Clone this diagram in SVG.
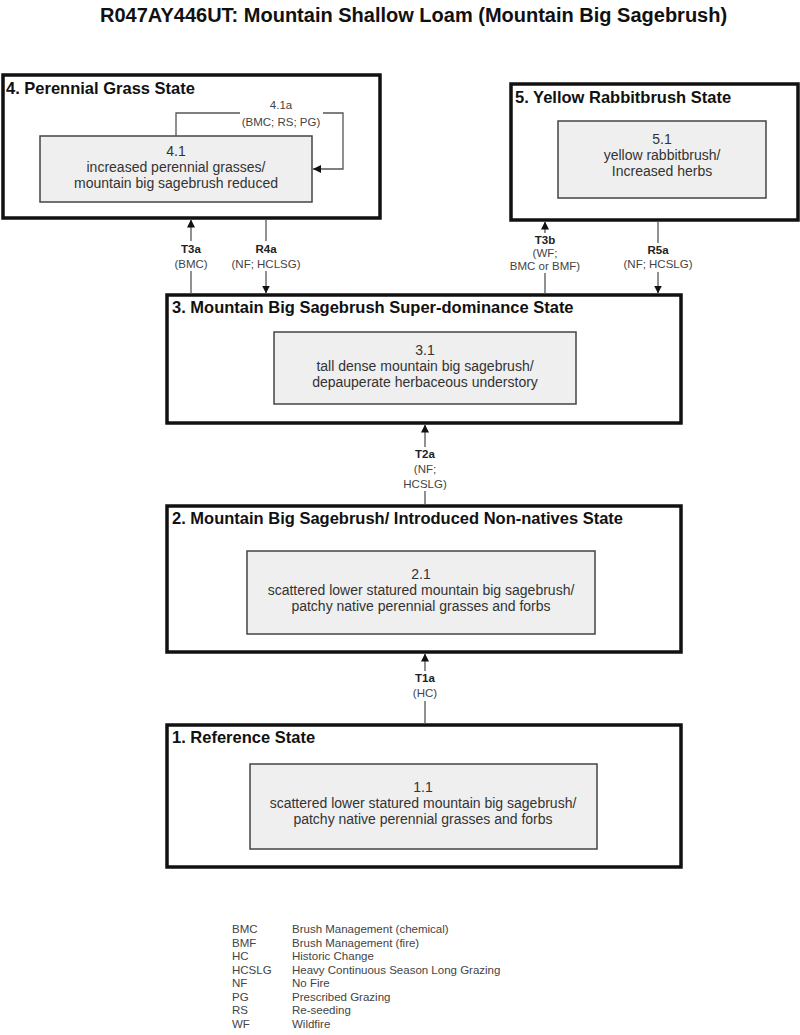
<svg xmlns="http://www.w3.org/2000/svg" width="800" height="1035" viewBox="0 0 800 1035">
<style>
text{font-family:"Liberation Sans",Arial,sans-serif}
.title{font-size:20px;font-weight:bold;fill:#111}
.state{fill:#fff;stroke:#111;stroke-width:3.5}
.stitle{font-size:16.5px;font-weight:bold;fill:#111}
.comm{fill:#efefef;stroke:#444;stroke-width:1.5}
.ctext{font-size:14px;fill:#333;text-anchor:middle}
.conn{fill:none;stroke:#555;stroke-width:1.3}
.lbl{font-size:11.5px;fill:#444;text-anchor:middle}
.lblb{font-size:11.5px;fill:#222;font-weight:bold;text-anchor:middle}
.bg{fill:#fff}
.leg{font-size:11.5px;fill:#444}
</style>
<defs>
<marker id="ah" viewBox="0 0 10 10" refX="10" refY="5" markerWidth="8" markerHeight="8" markerUnits="userSpaceOnUse" orient="auto">
<path d="M0,0 L10,5 L0,10 z" fill="#111"/>
</marker>
</defs>

<text class="title" x="100" y="22">R047AY446UT: Mountain Shallow Loam (Mountain Big Sagebrush)</text>

<g id="state4">
<rect class="state" x="3" y="75" width="377" height="143"/>
<text class="stitle" x="6" y="94">4. Perennial Grass State</text>
<g id="c41">
<rect class="comm" x="40" y="136" width="272" height="66"/>
<text class="ctext" x="176" y="156">4.1</text>
<text class="ctext" x="176" y="172">increased perennial grasses/</text>
<text class="ctext" x="176" y="188">mountain big sagebrush reduced</text>
</g>
</g>

<g id="state5">
<rect class="state" x="511" y="84" width="287" height="136"/>
<text class="stitle" x="515" y="103">5. Yellow Rabbitbrush State</text>
<g id="c51">
<rect class="comm" x="558" y="121" width="208" height="77"/>
<text class="ctext" x="662" y="144">5.1</text>
<text class="ctext" x="662" y="160">yellow rabbitbrush/</text>
<text class="ctext" x="662" y="176">Increased herbs</text>
</g>
</g>

<g id="state3">
<rect class="state" x="167" y="295" width="514" height="128"/>
<text class="stitle" x="172" y="313">3. Mountain Big Sagebrush Super-dominance State</text>
<g id="c31">
<rect class="comm" x="274" y="332" width="302" height="72"/>
<text class="ctext" x="425" y="355">3.1</text>
<text class="ctext" x="425" y="371">tall dense mountain big sagebrush/</text>
<text class="ctext" x="425" y="387">depauperate herbaceous understory</text>
</g>
</g>

<g id="state2">
<rect class="state" x="167" y="506" width="514" height="146"/>
<text class="stitle" x="172" y="524">2. Mountain Big Sagebrush/ Introduced Non-natives State</text>
<g id="c21">
<rect class="comm" x="247" y="551" width="348" height="83"/>
<text class="ctext" x="421" y="579">2.1</text>
<text class="ctext" x="421" y="595">scattered lower statured mountain big sagebrush/</text>
<text class="ctext" x="421" y="611">patchy native perennial grasses and forbs</text>
</g>
</g>

<g id="state1">
<rect class="state" x="167" y="725" width="514" height="142"/>
<text class="stitle" x="172" y="743">1. Reference State</text>
<g id="c11">
<rect class="comm" x="250" y="764" width="347" height="85"/>
<text class="ctext" x="423" y="792">1.1</text>
<text class="ctext" x="423" y="808">scattered lower statured mountain big sagebrush/</text>
<text class="ctext" x="423" y="824">patchy native perennial grasses and forbs</text>
</g>
</g>

<g id="connectors">
<path class="conn" d="M176,136 V113 H343 V169 H313" marker-end="url(#ah)"/>
<rect class="bg" x="240" y="100" width="83" height="29"/>
<text class="lbl" x="281" y="109">4.1a</text>
<text class="lbl" x="281" y="126">(BMC; RS; PG)</text>

<path class="conn" d="M191,294 V219.5" marker-end="url(#ah)"/>
<rect class="bg" x="170" y="241" width="42" height="30"/>
<text class="lblb" x="191" y="253">T3a</text>
<text class="lbl" x="191" y="268">(BMC)</text>

<path class="conn" d="M266,219 V293.5" marker-end="url(#ah)"/>
<rect class="bg" x="229" y="241" width="74" height="30"/>
<text class="lblb" x="266" y="253">R4a</text>
<text class="lbl" x="266" y="268">(NF; HCLSG)</text>

<path class="conn" d="M545,294 V221.5" marker-end="url(#ah)"/>
<rect class="bg" x="509" y="233" width="72" height="40"/>
<text class="lblb" x="545" y="244">T3b</text>
<text class="lbl" x="545" y="257">(WF;</text>
<text class="lbl" x="545" y="270">BMC or BMF)</text>

<path class="conn" d="M658,221 V293.5" marker-end="url(#ah)"/>
<rect class="bg" x="620" y="243" width="76" height="29"/>
<text class="lblb" x="658" y="254">R5a</text>
<text class="lbl" x="658" y="268">(NF; HCSLG)</text>

<path class="conn" d="M425,505 V424.5" marker-end="url(#ah)"/>
<rect class="bg" x="400" y="447" width="50" height="44"/>
<text class="lblb" x="425" y="458">T2a</text>
<text class="lbl" x="425" y="473">(NF;</text>
<text class="lbl" x="425" y="488">HCSLG)</text>

<path class="conn" d="M425,724 V653.5" marker-end="url(#ah)"/>
<rect class="bg" x="408" y="671" width="34" height="30"/>
<text class="lblb" x="425" y="682">T1a</text>
<text class="lbl" x="425" y="697">(HC)</text>
</g>

<g id="legend">
<text class="leg" x="232" y="933">BMC</text>
<text class="leg" x="292" y="933">Brush Management (chemical)</text>
<text class="leg" x="232" y="946.5">BMF</text>
<text class="leg" x="292" y="946.5">Brush Management (fire)</text>
<text class="leg" x="232" y="960">HC</text>
<text class="leg" x="292" y="960">Historic Change</text>
<text class="leg" x="232" y="973.5">HCSLG</text>
<text class="leg" x="292" y="973.5">Heavy Continuous Season Long Grazing</text>
<text class="leg" x="232" y="987">NF</text>
<text class="leg" x="292" y="987">No Fire</text>
<text class="leg" x="232" y="1000.5">PG</text>
<text class="leg" x="292" y="1000.5">Prescribed Grazing</text>
<text class="leg" x="232" y="1014">RS</text>
<text class="leg" x="292" y="1014">Re-seeding</text>
<text class="leg" x="232" y="1027.5">WF</text>
<text class="leg" x="292" y="1027.5">Wildfire</text>
</g>
</svg>
